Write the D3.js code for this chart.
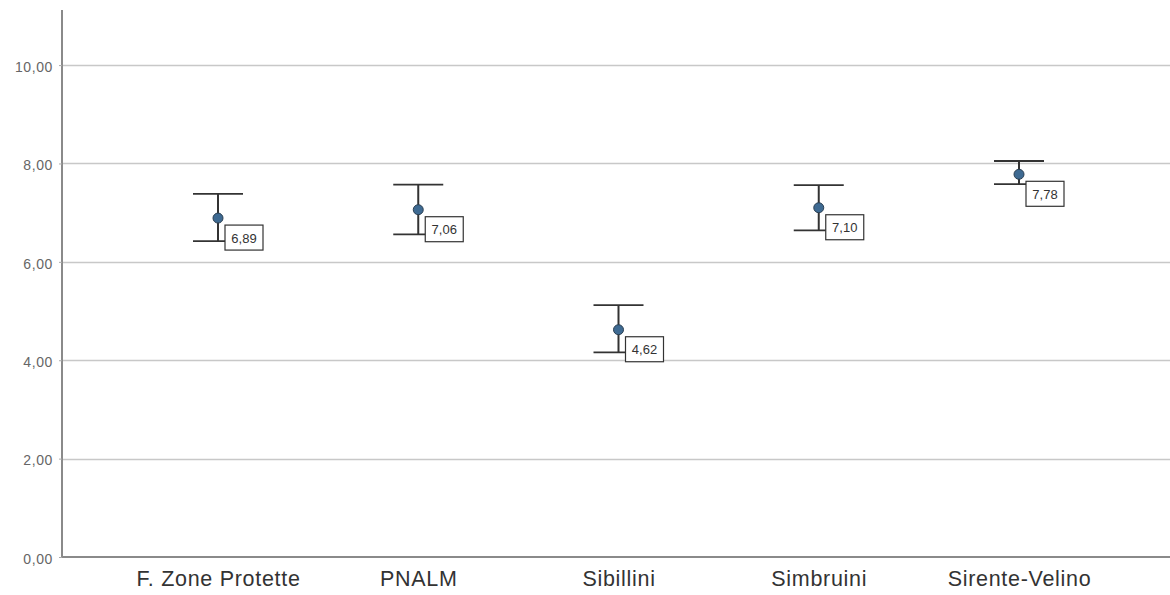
<!DOCTYPE html>
<html>
<head>
<meta charset="utf-8">
<script src="https://cdn.jsdelivr.net/npm/d3@7"></script>
<style>
  html, body { margin: 0; padding: 0; background: #fff; }
  svg { display: block; font-family: "Liberation Sans", Arial, sans-serif; }
</style>
</head>
<body>
<svg id="chart" width="1170" height="595"></svg>
<script>
const categories = ["F. Zone Protette", "PNALM", "Sibillini", "Simbruini", "Sirente-Velino"];
const means = [6.89, 7.06, 4.62, 7.10, 7.78];
const upper = [7.38, 7.57, 5.12, 7.56, 8.05];
const lower = [6.42, 6.56, 4.16, 6.64, 7.58];
const meanLabels = ["6,89", "7,06", "4,62", "7,10", "7,78"];
const yTicks = [0, 2, 4, 6, 8, 10];
const yTickLabels = ["0,00", "2,00", "4,00", "6,00", "8,00", "10,00"];

(function () {
const svg = d3.select("#chart");
const mLeft = 62, mRight = 1170, mTop = 10, mBottom = 557;

const x = d3.scalePoint().domain(categories).range([218, 1019]);
const y = d3.scaleLinear().domain([0, 11.12]).range([mBottom, mTop]);

// grid lines
svg.append("g").selectAll("line").data(yTicks.filter(d => d > 0)).join("line")
  .attr("x1", mLeft).attr("x2", mRight)
  .attr("y1", d => Math.round(y(d)) + 0.5).attr("y2", d => Math.round(y(d)) + 0.5)
  .attr("stroke", "#c8c8c8").attr("stroke-width", 1.5);

// y axis
const yAxis = d3.axisLeft(y).tickValues(yTicks).tickFormat((d, i) => yTickLabels[i]).tickSize(3).tickPadding(6);
const gy = svg.append("g").attr("transform", `translate(${mLeft},0)`).call(yAxis);
gy.select(".domain").attr("stroke", "#8a8a8a").attr("stroke-width", 2).attr("d", `M0,${mTop}V${mBottom}`);
gy.selectAll(".tick line").attr("stroke", "#aaa");
gy.selectAll(".tick text").attr("fill", "#666").attr("font-size", 14).attr("letter-spacing", 0.6)
  .attr("dy", "0.45em").attr("font-family", "Liberation Sans, Arial, sans-serif");

// x axis
const xAxis = d3.axisBottom(x).tickSize(0).tickPadding(14);
const gx = svg.append("g").attr("transform", `translate(0,${mBottom})`).call(xAxis);
gx.select(".domain").attr("stroke", "#8a8a8a").attr("stroke-width", 2).attr("d", `M${mLeft},0H${mRight}`);
gx.selectAll(".tick text").attr("fill", "#333").attr("font-size", 21.5).attr("letter-spacing", 0.7)
  .attr("font-family", "Liberation Sans, Arial, sans-serif");

const data = categories.map((c, i) => ({c, m: means[i], u: upper[i], l: lower[i], lab: meanLabels[i]}));
const capHalf = 25;

const g = svg.append("g");
g.selectAll(".err").data(data).join("line")
  .attr("x1", d => x(d.c)).attr("x2", d => x(d.c))
  .attr("y1", d => y(d.u)).attr("y2", d => y(d.l))
  .attr("stroke", "#333").attr("stroke-width", 2);
g.selectAll(".capu").data(data).join("line")
  .attr("x1", d => x(d.c) - capHalf).attr("x2", d => x(d.c) + capHalf)
  .attr("y1", d => y(d.u)).attr("y2", d => y(d.u))
  .attr("stroke", "#333").attr("stroke-width", 1.8);
g.selectAll(".capl").data(data).join("line")
  .attr("x1", d => x(d.c) - capHalf).attr("x2", d => x(d.c) + capHalf)
  .attr("y1", d => y(d.l)).attr("y2", d => y(d.l))
  .attr("stroke", "#333").attr("stroke-width", 1.8);
g.selectAll(".pt").data(data).join("circle")
  .attr("cx", d => x(d.c)).attr("cy", d => y(d.m)).attr("r", 5)
  .attr("fill", "#3e6a92").attr("stroke", "#2b3f52").attr("stroke-width", 1);
const lab = g.selectAll(".lab").data(data).join("g")
  .attr("transform", d => `translate(${x(d.c) + 7},${y(d.m) + 7})`);
lab.append("rect").attr("x", 0).attr("y", 0).attr("width", 38).attr("height", 25)
  .attr("fill", "#fff").attr("stroke", "#333").attr("stroke-width", 1.2);
lab.append("text").attr("x", 19).attr("y", 17.5).attr("text-anchor", "middle")
  .attr("font-size", 13).attr("fill", "#333").text(d => d.lab);
})();
</script>
</body>
</html>
